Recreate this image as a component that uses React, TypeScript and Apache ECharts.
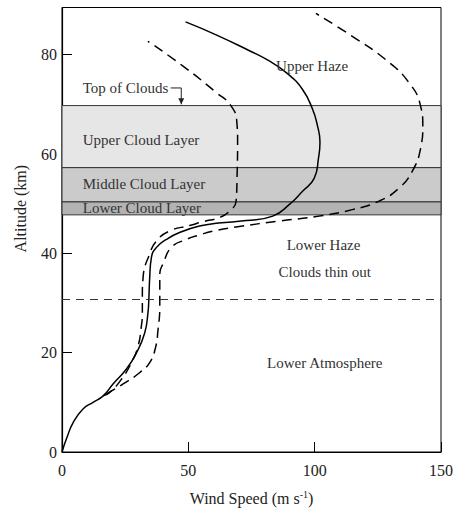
import React, { useEffect, useRef } from "react";
import * as echarts from "echarts";

// Wind speed (m/s) vs altitude (km) — [speed, altitude]
const solidProfile: number[][] = [
  [0, 0], [1.8, 2.7], [4.5, 6], [8.4, 8.7], [12.3, 10], [16.3, 11.3], [20.2, 13.7],
  [25.5, 16.7], [29.5, 20], [32.7, 23.9], [34, 27.9], [34.4, 31.2], [34.7, 35],
  [35.4, 39.2], [37.4, 41.2], [41.3, 42.8], [46.5, 44.2], [54.4, 45.5], [62, 46.1],
  [72.9, 46.6], [83.4, 47.5], [89.9, 49.8], [95.2, 52.5], [99.8, 55.1], [101.5, 59.1],
  [102.1, 62.4], [101.1, 65.7], [99.1, 69.1], [95.2, 73], [89, 76.3], [81.5, 78.9],
  [74.2, 80.8], [61, 84], [48.9, 86.6],
];
const leftDashed: number[][] = [
  [16.3, 11.3], [18.9, 12.0], [23.6, 14.7], [27.5, 18.0], [30.1, 21.3], [31.4, 25.3],
  [31.8, 28], [31.8, 31.2], [32.1, 35.2], [34.7, 39.9], [37.4, 42.5], [42.6, 44.5],
  [50.5, 45.6], [56, 46.4], [62.3, 47.2], [66.3, 48.5], [68.9, 50.5], [69.3, 55.8],
  [69.5, 62.4], [69.2, 66.4], [66.9, 69.7], [61, 72.4], [47.9, 77.7], [34, 82.7],
];
const rightDashed: number[][] = [
  [17.6, 11.7], [24.2, 13.7], [30.8, 16.0], [34.7, 18.0], [37, 21], [38.0, 24.6],
  [38.7, 29.3], [38.7, 31.2], [38.7, 35.9], [40, 37.9], [43.3, 41.2], [49.2, 42.8],
  [54.4, 43.7], [60, 44.5], [68.9, 45.3], [86, 46.5], [101.8, 47.5], [114.9, 48.8],
  [125.4, 50.5], [133.3, 53.1], [138.6, 56.5], [141.9, 61.1], [142.8, 65.7],
  [141.9, 69.7], [137.3, 74.4], [128.1, 79.0], [114.9, 83.7], [100.5, 88.3],
];

// Cloud layers: [bottom, top, colour]
const cloudLayers: [number, number, string][] = [
  [57.25, 69.75, "#e6e6e6"],
  [50.35, 57.25, "#cbcbcb"],
  [47.75, 50.35, "#b3b3b3"],
];
const lowerHazeBoundary = 30.7;

// Annotations: [speed, altitude, text, align]
const annotations: [number, number, string, string][] = [
  [99, 77.8, "Upper Haze", "center"],
  [8.2, 73.3, "Top of Clouds", "left"],
  [8.2, 62.8, "Upper Cloud Layer", "left"],
  [8.2, 53.9, "Middle Cloud Layer", "left"],
  [8.2, 49.1, "Lower Cloud Layer", "left"],
  [103.5, 41.7, "Lower Haze", "center"],
  [104, 36.2, "Clouds thin out", "center"],
  [104, 17.9, "Lower Atmosphere", "center"],
];
// bracket arrow from "Top of Clouds" to the cloud top: [speed, altitude]
const bracketPoints: number[][] = [[43, 73.3], [47.2, 73.3], [47.2, 70.0]];

const xTicks = { min: 0, max: 150, interval: 50 };
const yTicks = { min: 0, max: 89.5, interval: 20 };
const yTitle = { text: "Altitude (km)", altitude: 49 };

const FONT = "Liberation Serif";

export default function App() {
  const ref = useRef<HTMLDivElement>(null);
  useEffect(() => {
    if (!ref.current) return;
    const chart = echarts.init(ref.current, undefined, { renderer: "svg" });
    const lineStyleBase = { color: "#000", width: 1.5 };
    const gridLeft = 62;
    chart.setOption({
      animation: false,
      textStyle: { fontFamily: FONT },
      grid: {
        left: gridLeft, right: 13.5, top: 7.5, bottom: 54,
        show: true, borderColor: "#000", borderWidth: 1, backgroundColor: "transparent",
      },
      xAxis: {
        type: "value", min: xTicks.min, max: xTicks.max, interval: xTicks.interval,
        name: "Wind Speed (m s{sup|-1})", nameLocation: "middle", nameGap: 37,
        nameTextStyle: {
          fontFamily: FONT, fontSize: 16, color: "#222",
          rich: { sup: { fontFamily: FONT, fontSize: 10, color: "#222", verticalAlign: "top", padding: [0, 0, 8, 0] } },
        },
        axisLine: { lineStyle: { color: "#000", width: 1.2 } },
        axisTick: { inside: true, length: 10, lineStyle: { color: "#000" } },
        axisLabel: { fontFamily: FONT, fontSize: 16, color: "#222", margin: 10 },
        splitLine: { show: false },
      },
      yAxis: {
        type: "value", min: yTicks.min, max: yTicks.max, interval: yTicks.interval,
        axisLine: { lineStyle: { color: "#000", width: 1.2 } },
        axisTick: { inside: true, length: 10, lineStyle: { color: "#000" } },
        axisLabel: { fontFamily: FONT, fontSize: 16, color: "#222", margin: 5, showMaxLabel: false },
        splitLine: { show: false },
      },
      series: [
        {
          type: "line", data: [], z: 1, silent: true,
          markArea: {
            silent: true,
            data: cloudLayers.map(([b, t, c]) => [
              { yAxis: b, itemStyle: { color: c, borderColor: "#333", borderWidth: 1 } },
              { yAxis: t },
            ]),
          },
          markLine: {
            silent: true, symbol: "none", label: { show: false },
            lineStyle: { color: "#333", type: [8, 6], width: 1.2 },
            data: [{ yAxis: lowerHazeBoundary }],
          },
        },
        {
          type: "line", data: solidProfile, showSymbol: false, smooth: 0.5, z: 3,
          lineStyle: { ...lineStyleBase, type: "solid" },
        },
        {
          type: "line", data: leftDashed, showSymbol: false, smooth: 0.5, z: 3,
          lineStyle: { ...lineStyleBase, type: [10, 6] },
        },
        {
          type: "line", data: rightDashed, showSymbol: false, smooth: 0.5, z: 3,
          lineStyle: { ...lineStyleBase, type: [10, 6] },
        },
      ],
    });

    const px = (p: number[]) => chart.convertToPixel({ gridIndex: 0 }, p) as number[];
    const texts = annotations.map(([s, a, t, align]) => {
      const [x, y] = px([s, a]);
      return {
        type: "text", x, y, z: 10, silent: true,
        style: { text: t, fontFamily: FONT, fontSize: 15, fill: "#333", align, verticalAlign: "middle" },
      };
    });
    const bp = bracketPoints.map(px);
    const tip = bp[bp.length - 1];
    const yTitleY = px([0, yTitle.altitude])[1];
    chart.setOption({
      graphic: [
        ...texts,
        {
          type: "text", x: gridLeft - 42, y: yTitleY, rotation: Math.PI / 2, silent: true,
          style: { text: yTitle.text, fontFamily: FONT, fontSize: 16, fill: "#222", align: "center", verticalAlign: "middle" },
        },
        { type: "polyline", z: 10, silent: true, shape: { points: bp }, style: { stroke: "#222", lineWidth: 1, fill: null } },
        {
          type: "polygon", z: 10, silent: true,
          shape: { points: [[tip[0] - 3, tip[1] - 6], [tip[0] + 3, tip[1] - 6], [tip[0], tip[1]]] },
          style: { fill: "#222" },
        },
      ],
    });
    return () => chart.dispose();
  }, []);
  return <div ref={ref} style={{ width: 456, height: 511, position: "absolute", left: 0, top: 0 }} />;
}
